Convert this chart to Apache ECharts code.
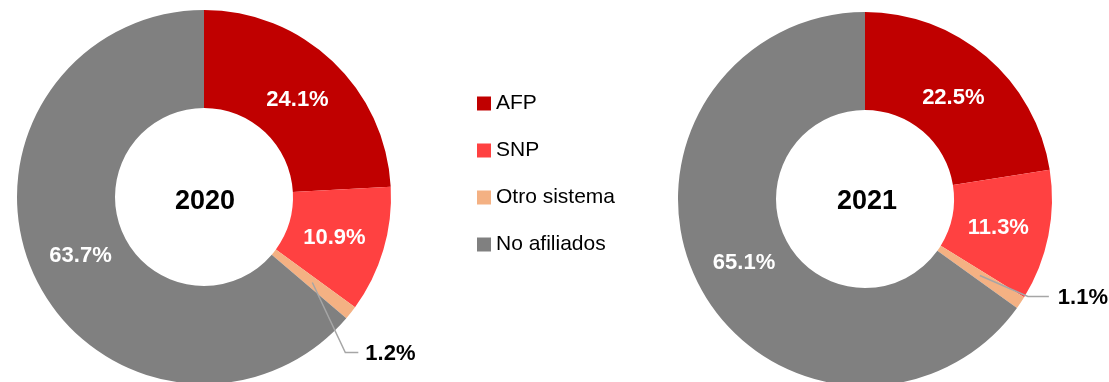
<!DOCTYPE html>
<html>
<head>
<meta charset="utf-8">
<script src="https://cdn.jsdelivr.net/npm/echarts@6/dist/echarts.min.js"></script>
<style>
  html, body { margin: 0; padding: 0; background: #fff; }
  #chart { width: 1109px; height: 382px; }
</style>
</head>
<body>
<div id="chart"></div>
<script>
// Affiliation to pension systems, share of population (%)
const categories = ['AFP', 'SNP', 'Otro sistema', 'No afiliados'];
const years = ['2020', '2021'];
const values2020 = [24.1, 10.9, 1.2, 63.7];
const values2021 = [22.5, 11.3, 1.1, 65.1];

const colors = ['#C00000', '#FF4141', '#F4B183', '#808080'];
const FONT = '"Liberation Sans", Arial, sans-serif';

// ring geometry (pixels)
const R_IN = 89, R_OUT = 187;
const R_MID = (R_IN + R_OUT) / 2;
const R_LABEL = 136;
const LABEL_DROP = 2; // optical baseline correction for the inside labels
const centers = [[204, 197], [865, 199]];
// leader line for the small slice: label offset from the anchor, horizontal run
const leaders = [
  { dx: 53, dy: 71, run: 13, gap: 7 },
  { dx: 78, dy: 22, run: 21, gap: 9 }
];
const SMALL = 2; // index of the slice labelled outside the ring

function midAngle(vals, idx) {
  const total = vals.reduce((a, b) => a + b, 0);
  let before = 0;
  for (let i = 0; i < idx; i++) before += vals[i];
  return ((before + vals[idx] / 2) / total) * Math.PI * 2; // clockwise from top
}

function pointAt(s, angle, r) {
  const [cx, cy] = centers[s];
  return [cx + r * Math.sin(angle), cy - r * Math.cos(angle)];
}

const pctFormatter = p => p.value.toFixed(1) + '%';

// the coloured ring with percentages inside each slice
function ringSeries(vals, s) {
  return {
    type: 'pie',
    z: 2,
    center: centers[s],
    radius: [R_IN, R_OUT],
    startAngle: 90,
    clockwise: true,
    avoidLabelOverlap: false,
    silent: true,
    itemStyle: { borderWidth: 0 },
    label: {
      show: true,
      position: 'inside',
      color: '#fff',
      fontFamily: FONT,
      fontWeight: 'bold',
      fontSize: 22,
      formatter: pctFormatter
    },
    labelLine: { show: false },
    labelLayout: function (params) {
      const [x, y] = pointAt(s, midAngle(vals, params.dataIndex), R_LABEL);
      return { x: x, y: y + LABEL_DROP };
    },
    data: categories.map((name, i) => ({
      name: name,
      value: vals[i],
      itemStyle: { color: colors[i] },
      label: { show: i !== SMALL }
    }))
  };
}

// overlay carrying the leader-line label of the thin slice, drawn above the ring
function leaderSeries(vals, s) {
  const ld = leaders[s];
  return {
    type: 'pie',
    z: 3,
    center: centers[s],
    radius: [0, R_MID],
    startAngle: 90,
    clockwise: true,
    avoidLabelOverlap: false,
    silent: true,
    itemStyle: { color: 'rgba(0,0,0,0)', borderWidth: 0 },
    label: {
      show: false,
      position: 'outside',
      color: '#000',
      fontFamily: FONT,
      fontWeight: 'bold',
      fontSize: 22,
      align: 'left',
      verticalAlign: 'middle',
      formatter: pctFormatter
    },
    labelLine: { show: false },
    labelLayout: function (params) {
      if (params.dataIndex !== SMALL) return {};
      const [ax, ay] = pointAt(s, midAngle(vals, SMALL), R_MID);
      const lx = ax + ld.dx, ly = ay + ld.dy;
      const endX = lx - ld.gap;
      return {
        x: lx,
        y: ly,
        labelLinePoints: [[ax, ay], [endX - ld.run, ly - 1], [endX, ly - 1]]
      };
    },
    data: categories.map((name, i) => {
      const item = { name: name, value: vals[i] };
      if (i === SMALL) {
        item.label = { show: true };
        item.labelLine = { show: true, lineStyle: { color: '#A6A6A6', width: 1.5 } };
      }
      return item;
    })
  };
}

const chart = echarts.init(document.getElementById('chart'), null, { renderer: 'canvas' });
chart.setOption({
  animation: false,
  backgroundColor: '#fff',
  color: colors,
  legend: {
    orient: 'vertical',
    left: 477,
    top: 93,
    padding: 0,
    icon: 'rect',
    itemWidth: 14,
    itemHeight: 14,
    itemGap: 26,
    selectedMode: false,
    textStyle: { fontFamily: FONT, fontSize: 21, color: '#000' },
    data: categories
  },
  graphic: years.map((y, s) => ({
    type: 'text',
    x: centers[s][0] + (s === 0 ? 1 : 2),
    y: 202,
    silent: true,
    style: {
      text: y,
      fill: '#000',
      font: 'bold 27px ' + FONT,
      align: 'center',
      verticalAlign: 'middle'
    }
  })),
  series: [
    ringSeries(values2020, 0),
    ringSeries(values2021, 1),
    leaderSeries(values2020, 0),
    leaderSeries(values2021, 1)
  ]
});
</script>
</body>
</html>
